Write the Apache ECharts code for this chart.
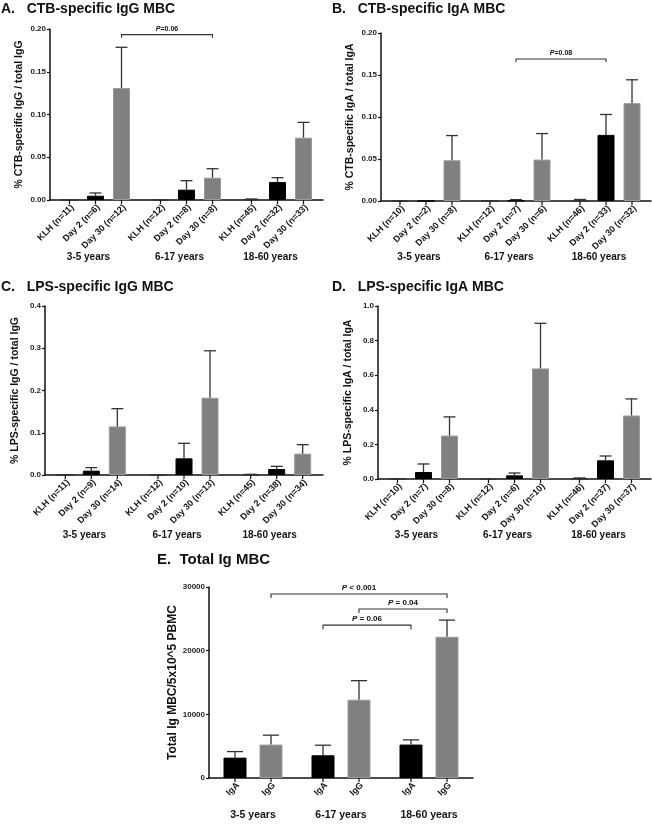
<!DOCTYPE html>
<html>
<head>
<meta charset="utf-8">
<script src="https://cdn.jsdelivr.net/npm/echarts@6/dist/echarts.min.js"></script>
<style>
html,body{margin:0;padding:0;background:#fff;}
#chart{width:652px;height:828px;}
</style>
</head>
<body>
<div id="chart"></div>
<script>
const groups = ['3-5 years', '6-17 years', '18-60 years'];

// A. CTB-specific IgG (mean, SEM)
const aKLH = [0, 0, 0.0005];
const aKLHErr = [0, 0, 0.0007];
const aDay2 = [0.005, 0.0121, 0.021];
const aDay2Err = [0.0032, 0.0105, 0.0051];
const aDay30 = [0.131, 0.0261, 0.0729];
const aDay30Err = [0.0476, 0.0105, 0.0179];
const aN = [[11, 6, 12], [12, 8, 8], [45, 32, 33]];

// B. CTB-specific IgA
const bKLH = [0, 0, 0.0004];
const bKLHErr = [0, 0, 0.0014];
const bDay2 = [0, 0.0006, 0.0787];
const bDay2Err = [0, 0.001, 0.0243];
const bDay30 = [0.0485, 0.0493, 0.1165];
const bDay30Err = [0.0294, 0.031, 0.0278];
const bN = [[10, 2, 8], [12, 7, 6], [46, 33, 32]];

// C. LPS-specific IgG
const cKLH = [0, 0, 0.0008];
const cKLHErr = [0, 0, 0.0008];
const cDay2 = [0.0103, 0.0394, 0.0142];
const cDay2Err = [0.0071, 0.0356, 0.0063];
const cDay30 = [0.115, 0.183, 0.0505];
const cDay30Err = [0.042, 0.111, 0.0213];
const cN = [[11, 9, 14], [12, 10, 13], [45, 38, 34]];

// D. LPS-specific IgA
const dKLH = [0, 0, 0.003];
const dKLHErr = [0, 0, 0.003];
const dDay2 = [0.0405, 0.0212, 0.108];
const dDay2Err = [0.0464, 0.0135, 0.025];
const dDay30 = [0.251, 0.639, 0.367];
const dDay30Err = [0.108, 0.261, 0.096];
const dN = [[10, 7, 8], [12, 6, 10], [46, 37, 37]];

// E. Total Ig MBC
const eIgA = [3200, 3570, 5250];
const eIgAErr = [950, 1580, 740];
const eIgG = [5250, 12300, 22180];
const eIgGErr = [1480, 2990, 2620];

// brackets: [group1, bar1, group2, bar2, y, text]
const aBrackets = [[0, 2, 1, 2, 0.1934, '=0.06']];
const bBrackets = [[1, 1, 2, 1, 0.169, '=0.08']];
const eBrackets = [
  [0, 1, 2, 1, 28900, ' < 0.001'],
  [1, 1, 2, 1, 26540, ' = 0.04'],
  [1, 0, 2, 0, 24010, ' = 0.06']
];

const FONT = '"Liberation Sans", Arial, sans-serif';
const BLACK = '#000';
const GREY = '#808080';

function timeBars(klh, klhErr, d2, d2Err, d30, d30Err, n) {
  return [
    {values: klh, errors: klhErr, color: '#333', labels: n.map(x => 'KLH (n=' + x[0] + ')')},
    {values: d2, errors: d2Err, color: BLACK, labels: n.map(x => 'Day 2 (n=' + x[1] + ')')},
    {values: d30, errors: d30Err, color: GREY, labels: n.map(x => 'Day 30 (n=' + x[2] + ')')}
  ];
}

const panels = [
  {
    title: 'A.   CTB-specific IgG MBC', tLeft: 1, tTop: 2, tSize: 14,
    grid: {left: 50, top: 29, width: 273, height: 171},
    yName: '% CTB-specific IgG / total IgG', yMax: 0.2, yStep: 0.05, dec: 2, nameGap: 25, nameSize: 10.5,
    bars: timeBars(aKLH, aKLHErr, aDay2, aDay2Err, aDay30, aDay30Err, aN),
    barWidth: 17, gapRatio: 0.53, groupDy: 57, groupDx: -7, groupSize: 10, labelSize: 9,
    brackets: aBrackets, bracketSize: 7, leg: 3
  },
  {
    title: 'B.   CTB-specific IgA MBC', tLeft: 332, tTop: 2, tSize: 14,
    grid: {left: 381, top: 33, width: 270, height: 168},
    yName: '% CTB-specific IgA / total IgA', yMax: 0.2, yStep: 0.05, dec: 2, nameGap: 25, nameSize: 10.5,
    bars: timeBars(bKLH, bKLHErr, bDay2, bDay2Err, bDay30, bDay30Err, bN),
    barWidth: 17, gapRatio: 0.53, groupDy: 56, groupDx: -7, groupSize: 10, labelSize: 9,
    brackets: bBrackets, bracketSize: 7, leg: 3
  },
  {
    title: 'C.   LPS-specific IgG MBC', tLeft: 1, tTop: 280, tSize: 14,
    grid: {left: 45, top: 306, width: 278, height: 169},
    yName: '% LPS-specific IgG / total IgG', yMax: 0.4, yStep: 0.1, dec: 1, nameGap: 24, nameSize: 10.5,
    bars: timeBars(cKLH, cKLHErr, cDay2, cDay2Err, cDay30, cDay30Err, cN),
    barWidth: 17, gapRatio: 0.53, groupDy: 60, groupDx: -7, groupSize: 10, labelSize: 9,
    brackets: [], bracketSize: 7, leg: 3
  },
  {
    title: 'D.   LPS-specific IgA MBC', tLeft: 332, tTop: 280, tSize: 14,
    grid: {left: 378, top: 306, width: 273, height: 173},
    yName: '% LPS-specific IgA / total IgA', yMax: 1.0, yStep: 0.2, dec: 1, nameGap: 24, nameSize: 10.5,
    bars: timeBars(dKLH, dKLHErr, dDay2, dDay2Err, dDay30, dDay30Err, dN),
    barWidth: 17, gapRatio: 0.53, groupDy: 56, groupDx: -7, groupSize: 10, labelSize: 9,
    brackets: [], bracketSize: 7, leg: 3
  },
  {
    title: 'E.  Total Ig MBC', tLeft: 157, tTop: 552, tSize: 15,
    grid: {left: 209, top: 587, width: 264, height: 191},
    yName: 'Total Ig MBC/5x10^5 PBMC', yMax: 30000, yStep: 10000, dec: 0, nameGap: 30, nameSize: 12,
    bars: [
      {values: eIgA, errors: eIgAErr, color: BLACK, labels: ['IgA', 'IgA', 'IgA']},
      {values: eIgG, errors: eIgGErr, color: GREY, labels: ['IgG', 'IgG', 'IgG']}
    ],
    barWidth: 23, gapRatio: 0.565, groupDy: 37, groupDx: 0, groupSize: 10.5, labelSize: 9,
    brackets: eBrackets, bracketSize: 8, leg: 4
  }
];

const option = {
  animation: false,
  backgroundColor: '#fff',
  graphic: [], grid: [], xAxis: [], yAxis: [], series: []
};

panels.forEach((p, i) => {
  const n = p.bars.length;
  const spacing = p.barWidth * (1 + p.gapRatio);
  const barX = (cx, k) => cx + (k - (n - 1) / 2) * spacing;

  // panel heading
  option.graphic.push({
    type: 'text', left: p.tLeft, top: p.tTop,
    style: {text: p.title, fontFamily: FONT, fontSize: p.tSize, fontWeight: 'bold', fill: '#111'}
  });
  option.grid.push(p.grid);
  option.xAxis.push({
    gridIndex: i, type: 'category', data: groups,
    axisLine: {lineStyle: {color: '#111', width: 1.5}},
    axisTick: {show: false},
    axisLabel: {show: false}
  });
  option.yAxis.push({
    gridIndex: i, type: 'value', min: 0, max: p.yMax, interval: p.yStep,
    name: p.yName, nameLocation: 'middle', nameGap: p.nameGap,
    nameTextStyle: {fontFamily: FONT, fontSize: p.nameSize, fontWeight: 'bold', color: '#111'},
    axisLine: {show: true, lineStyle: {color: '#111', width: 1.5}},
    axisTick: {show: true, length: 3, lineStyle: {color: '#111', width: 1.2}},
    splitLine: {show: false},
    axisLabel: {fontFamily: FONT, fontSize: 8, fontWeight: 'bold', color: '#222', margin: 4,
      formatter: v => v.toFixed(p.dec)}
  });

  p.bars.forEach(b => {
    option.series.push({
      type: 'bar', xAxisIndex: i, yAxisIndex: i, data: b.values,
      barWidth: p.barWidth, barGap: (p.gapRatio * 100) + '%',
      itemStyle: {color: b.color, borderColor: b.color === GREY ? '#9a9a9a' : b.color, borderWidth: 1}
    });
  });

  // error bars, per-bar ticks and labels
  const items = [];
  p.bars.forEach((b, k) => b.values.forEach((v, g) => items.push({g, k, v, e: b.errors[g], label: b.labels[g]})));
  option.series.push({
    type: 'custom', xAxisIndex: i, yAxisIndex: i, clip: false, z: 5,
    data: items.map(it => [it.g, it.v + it.e]),
    encode: {x: 0, y: 1},
    renderItem: function (params, api) {
      const it = items[params.dataIndex];
      const base = api.coord([it.g, 0]);
      const x = barX(base[0], it.k);
      const ch = [];
      if (it.e > 0) {
        const yTop = api.coord([it.g, it.v])[1];
        const yErr = api.coord([it.g, it.v + it.e])[1];
        const cap = p.barWidth * 0.7;
        ch.push({type: 'line', shape: {x1: x, y1: yTop, x2: x, y2: yErr}, style: {stroke: '#333', lineWidth: 1.3}});
        ch.push({type: 'line', shape: {x1: x - cap / 2, y1: yErr, x2: x + cap / 2, y2: yErr}, style: {stroke: '#333', lineWidth: 1.3}});
      }
      ch.push({type: 'line', shape: {x1: x, y1: base[1], x2: x, y2: base[1] + 4}, style: {stroke: '#111', lineWidth: 1.2}});
      ch.push({
        type: 'text', x: x + 3, y: base[1] + 6, rotation: Math.PI / 4,
        style: {text: it.label, align: 'right', verticalAlign: 'middle',
          fontFamily: FONT, fontSize: p.labelSize, fontWeight: 'bold', fill: '#111'}
      });
      return {type: 'group', children: ch};
    }
  });

  // age-group captions under each cluster
  option.series.push({
    type: 'custom', xAxisIndex: i, yAxisIndex: i, clip: false, z: 5,
    data: groups.map((g, gi) => [gi, 0]),
    encode: {x: 0, y: 1},
    renderItem: function (params, api) {
      const c = api.coord([params.dataIndex, 0]);
      return {
        type: 'text', x: c[0] + p.groupDx, y: c[1] + p.groupDy,
        style: {text: groups[params.dataIndex], align: 'center', verticalAlign: 'middle',
          fontFamily: FONT, fontSize: p.groupSize, fontWeight: 'bold', fill: '#111'}
      };
    }
  });

  if (p.brackets.length) {
    option.series.push({
      type: 'custom', xAxisIndex: i, yAxisIndex: i, clip: false, z: 5,
      data: p.brackets.map(b => [b[0], b[4]]),
      encode: {x: 0, y: 1},
      renderItem: function (params, api) {
        const b = p.brackets[params.dataIndex];
        const p1 = api.coord([b[0], b[4]]);
        const p2 = api.coord([b[2], b[4]]);
        const x1 = barX(p1[0], b[1]);
        const x2 = barX(p2[0], b[3]);
        const y = p1[1];
        return {type: 'group', children: [
          {type: 'polyline', shape: {points: [[x1, y + p.leg], [x1, y], [x2, y], [x2, y + p.leg]]},
            style: {stroke: '#333', lineWidth: 1.1, fill: null}},
          {type: 'text', x: (x1 + x2) / 2, y: y - 2,
            style: {text: '{i|P}' + b[5], align: 'center', verticalAlign: 'bottom',
              fontFamily: FONT, fontSize: p.bracketSize, fontWeight: 'bold', fill: '#111',
              rich: {i: {fontStyle: 'italic', fontWeight: 'bold', fontSize: p.bracketSize, fontFamily: FONT}}}}
        ]};
      }
    });
  }
});

const chart = echarts.init(document.getElementById('chart'));
chart.setOption(option);
</script>
</body>
</html>
